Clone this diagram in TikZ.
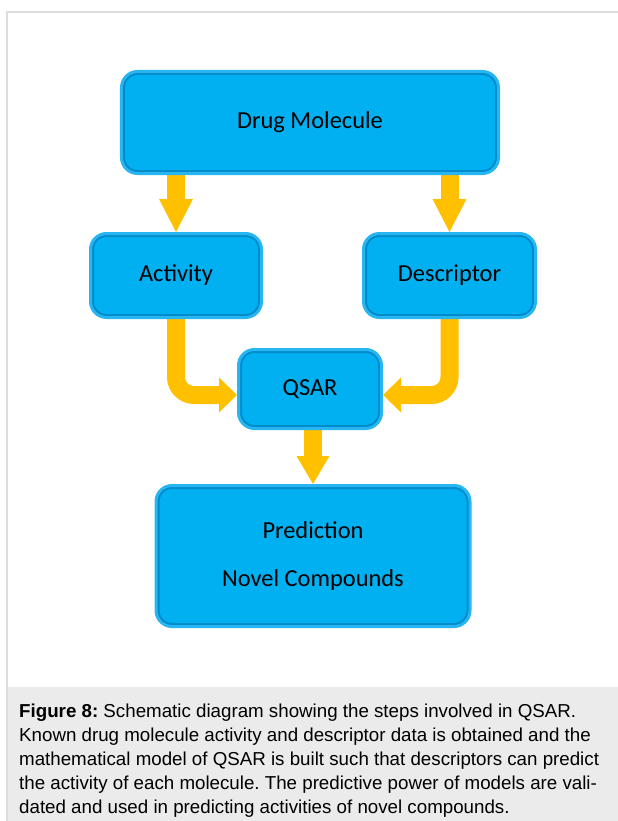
\documentclass[tikz,border=0pt]{standalone}
\usepackage{fontspec}
\setmainfont{Carlito}
\newfontfamily\capfont{Liberation Sans}
\usetikzlibrary{arrows.meta,backgrounds}
\definecolor{boxfill}{RGB}{0,176,240}
\definecolor{boxrim}{RGB}{40,182,242}
\definecolor{boxshade}{RGB}{0,105,165}
\definecolor{arrowgold}{RGB}{255,192,0}
\definecolor{framegray}{RGB}{221,221,221}
\definecolor{capgray}{RGB}{235,235,235}
\tikzset{
  qbox/.style={rectangle, rounded corners=16bp, fill=boxfill, draw=boxrim, line width=3bp,
    inner sep=0pt, font=\fontsize{24.5}{29}\selectfont, text=black, align=center,
    path picture={\draw[boxshade, opacity=0.5, line width=7bp, rounded corners=16bp]
      (path picture bounding box.south west) rectangle (path picture bounding box.north east);}},
  flow/.style={draw=arrowgold, line width=18bp},
  vhead/.style={-{Triangle[length=33bp,width=34bp,line width=0pt]}},
  shorthead/.style={-{Triangle[length=28bp,width=33bp,line width=0pt]}},
  hhead/.style={-{Triangle[length=18bp,width=35bp,line width=0pt]}},
}
\begin{document}
\frenchspacing
\begin{tikzpicture}[x=1bp,y=-1bp]
\useasboundingbox (0,0) rectangle (618,821);
% frame and caption
\fill[capgray] (7.75,687) rectangle (618,821);
\draw[framegray, line width=1.5bp] (7,821) -- (7,12) -- (618,12);

% boxes
\node[qbox, minimum width=377bp, minimum height=102bp] (drug) at (310,122.5) {Drug Molecule};
\node[qbox, minimum width=171bp, minimum height=84bp] (act) at (176,275.5) {Activity};
\node[qbox, minimum width=172bp, minimum height=84bp] (desc) at (449.5,275.5) {Descriptor};
\node[qbox, minimum width=143bp, minimum height=79bp] (qsar) at (310,389) {QSAR};
\node[qbox, minimum width=314bp, minimum height=141bp, font=\fontsize{24.5}{48}\selectfont] (pred) at (313,556) {Prediction\\Novel Compounds};

\coordinate (ql) at ([yshift=-6bp]qsar.west);
\coordinate (qr) at ([yshift=-6bp]qsar.east);

% arrows
\begin{scope}[on background layer]
\draw[flow, vhead] (drug.south -| act.north) -- (act.north);
\draw[flow, vhead] (drug.south -| desc.north) -- (desc.north);
\draw[flow, hhead, rounded corners=18bp] (act.south) -- (act.south |- ql) -- (ql);
\draw[flow, hhead, rounded corners=18bp] (desc.south) -- (desc.south |- qr) -- (qr);
\draw[flow, shorthead] (qsar.south -| pred.north) -- (pred.north);
\end{scope}

\node[anchor=north west, inner sep=0pt, align=left, font=\capfont\fontsize{18.8}{24}\selectfont] (cap) at (19,704)
{\textbf{Figure 8:} Schematic diagram showing the steps involved in QSAR.\\
Known drug molecule activity and descriptor data is obtained and the\\
mathematical model of QSAR is built such that descriptors can predict\\
the activity of each molecule. The predictive power of models are vali-\\
dated and used in predicting activities of novel compounds.};
\end{tikzpicture}
\end{document}
